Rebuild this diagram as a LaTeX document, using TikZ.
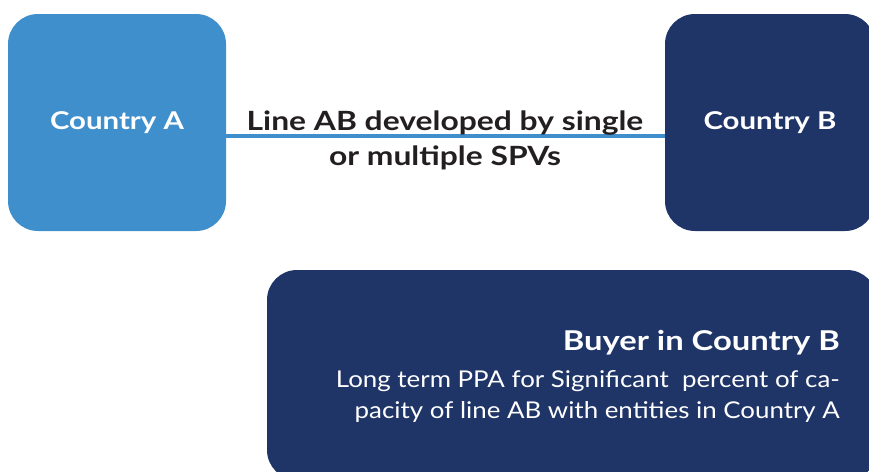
\documentclass[tikz,border=0pt]{standalone}
\usepackage{fontspec}
\setmainfont{Lato}[FakeStretch=1.12]
\newfontfamily\widebold{Lato}[FakeStretch=1.2]
\definecolor{skyblue}{HTML}{3F8FCD}
\definecolor{navy}{HTML}{1F3467}
\definecolor{inkdark}{HTML}{231F20}
\begin{document}
\begin{tikzpicture}[x=1pt,y=1pt]
  \tikzset{
    countrybox/.style={rectangle, rounded corners=30pt, inner sep=0pt,
      text=white, font=\widebold\bfseries\fontsize{24.5}{28}\selectfont},
    link/.style={draw=skyblue, line width=4pt},
  }
  \clip (0,0) rectangle (869,-471);
  \useasboundingbox (0,0) rectangle (869,-471);

  % the two countries
  \node[countrybox, fill=skyblue, minimum width=218pt, minimum height=217pt]
    (ca) at (117,-122.5) {Country A};
  \node[countrybox, fill=navy, minimum width=210pt, minimum height=217pt]
    (cb) at (770,-122.5) {Country B};

  % interconnector line and its caption
  \draw[link] ([yshift=-13.5pt]ca.east) -- ([yshift=-13.5pt]cb.west);
  \node[align=center, text=inkdark, inner sep=0pt,
        font=\widebold\bfseries\fontsize{26.5}{35}\selectfont]
    (lbl) at (445,-140.5) {Line AB developed by single\\or multiple SPVs};

  % buyer box
  \node[rectangle, rounded corners=30pt, fill=navy, inner sep=0pt,
        minimum width=610pt, minimum height=210pt]
    (buyer) at (572,-375) {};
  \node[anchor=east, align=right, text=white, inner sep=0pt,
        font=\fontsize{23.1}{31}\selectfont]
    (buyertext) at (840,-376)
    {{\widebold\bfseries\fontsize{27.3}{31}\selectfont Buyer in Country B}\\[6pt]
     Long term PPA for Significant \ percent of ca-\\
     pacity of line AB with entities in Country A};
\end{tikzpicture}
\end{document}
